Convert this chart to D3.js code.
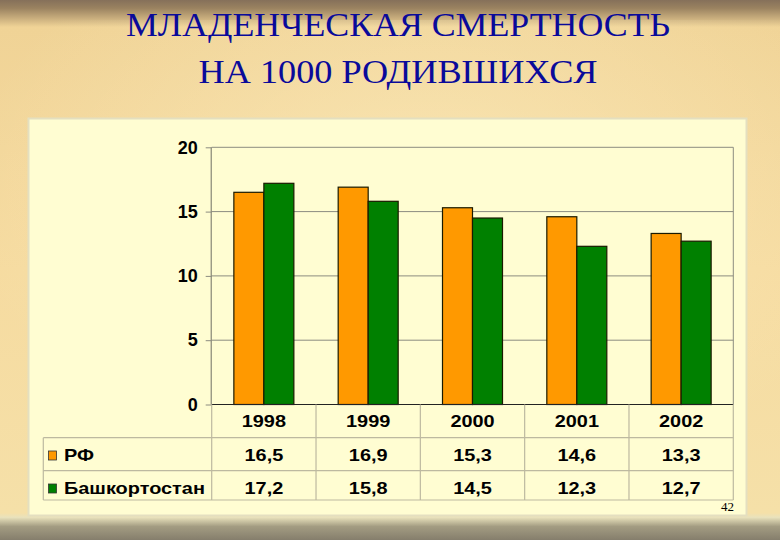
<!DOCTYPE html>
<html><head><meta charset="utf-8">
<script src="https://cdn.jsdelivr.net/npm/d3@7"></script>
<style>html,body{margin:0;padding:0;background:#F5D898;}svg{display:block;}</style>
</head><body>
<script>
const years = ["1998","1999","2000","2001","2002"];
const seriesNames = ["РФ","Башкортостан"];
const rfValues = [16.5,16.9,15.3,14.6,13.3];
const bashValues = [17.2,15.8,14.5,12.3,12.7];
const yTicks = [0,5,10,15,20];
const titleLines = ["МЛАДЕНЧЕСКАЯ СМЕРТНОСТЬ","НА 1000 РОДИВШИХСЯ"];
const pageNumber = "42";

(function(){
const W=780,H=540;
const colors=["#FF9900","#008000"];
const series=[rfValues,bashValues];
const fmt=v=>v.toFixed(1).replace(".",",");

const svg=d3.select("body").append("svg").attr("width",W).attr("height",H);
const defs=svg.append("defs");
const bg=defs.append("linearGradient").attr("id","bg").attr("x1",0).attr("y1",0).attr("x2",0).attr("y2",1);
[[0,"#85705A"],[0.015,"#9A8260"],[0.05,"#F0D396"],[0.5,"#F6DBA0"],[0.95,"#F5E0A8"],[0.958,"#E9E2BC"],[0.975,"#A39C82"],[1,"#857E6C"]]
 .forEach(s=>bg.append("stop").attr("offset",s[0]).attr("stop-color",s[1]));
svg.append("rect").attr("width",W).attr("height",H).attr("fill","url(#bg)");
const rg=defs.append("radialGradient").attr("id","glow").attr("cx",0.55).attr("cy",0.35).attr("r",0.6);
rg.append("stop").attr("offset",0).attr("stop-color","#FFF2C8").attr("stop-opacity",0.5);
rg.append("stop").attr("offset",1).attr("stop-color","#FFF2C8").attr("stop-opacity",0);
svg.append("rect").attr("y",20).attr("width",W).attr("height",495).attr("fill","url(#glow)");

titleLines.forEach((t,i)=>{
  svg.append("text").attr("x",398).attr("y",[36,83][i]).attr("text-anchor","middle")
    .attr("font-family","'Liberation Serif','Times New Roman',serif").attr("font-size",33)
    .attr("fill","#0A0A9A").attr("textLength",[544,399][i]).attr("lengthAdjust","spacingAndGlyphs").text(t);
});

svg.append("rect").attr("x",28.5).attr("y",118.5).attr("width",718).attr("height",397)
  .attr("fill","#FFFDD2").attr("stroke","#E4DFC0").attr("stroke-width",2);

const pLeft=211.7,pRight=733.3,pTop=147.3,pBottom=404.5;
const x=d3.scaleBand().domain(years).range([pLeft,pRight]).paddingInner(0).paddingOuter(0);
const y=d3.scaleLinear().domain([0,20]).range([pBottom,pTop]);
const xs=d3.scaleBand().domain([0,1]).range([0,60]);
const grpOff=(x.bandwidth()-60)/2;

const g=svg.append("g");
g.selectAll(".grid").data(yTicks.filter(d=>d>0)).join("line")
  .attr("x1",pLeft).attr("x2",pRight).attr("y1",d=>y(d)).attr("y2",d=>y(d))
  .attr("stroke","#8C8C80").attr("stroke-width",1);
g.append("line").attr("x1",pRight).attr("x2",pRight).attr("y1",pTop).attr("y2",pBottom).attr("stroke","#8C8C80");

years.forEach((yr,i)=>{
  series.forEach((s,k)=>{
    g.append("rect").attr("x",x(yr)+grpOff+xs(k)).attr("y",y(s[i]))
      .attr("width",xs.bandwidth()).attr("height",pBottom-y(s[i]))
      .attr("fill",colors[k]).attr("stroke","#1A1A00").attr("stroke-width",1.2);
  });
});

const font="'Liberation Sans',Arial,sans-serif";
const yAxis=g.append("g").attr("transform",`translate(${pLeft},0)`)
  .call(d3.axisLeft(y).tickValues(yTicks).tickSize(6).tickPadding(8));
yAxis.select(".domain").attr("stroke","#6E6E64").attr("d",`M-0.5,${pTop}V${pBottom}`);
yAxis.selectAll(".tick line").attr("stroke","#8C8C80");
yAxis.selectAll("text").attr("font-family",font).attr("font-weight","bold")
  .attr("font-size",18).attr("fill","#000").attr("x",-14);
g.append("line").attr("x1",pLeft).attr("x2",pRight).attr("y1",pBottom).attr("y2",pBottom).attr("stroke","#222").attr("stroke-width",1.2);

const tableLeft=43.3, row1=437.7, row2=470.7, row3=500;
const lineCol="#BDB9A0";
const tl=svg.append("g").attr("stroke",lineCol).attr("stroke-width",1.2);
years.concat(["end"]).forEach((yr,i)=>{
  const xx=i<years.length?x(yr):pRight;
  tl.append("line").attr("x1",xx).attr("x2",xx).attr("y1",pBottom).attr("y2",row3);
});
[row1,row2,row3].forEach(r=>tl.append("line").attr("x1",tableLeft).attr("x2",pRight).attr("y1",r).attr("y2",r));
tl.append("line").attr("x1",tableLeft).attr("x2",tableLeft).attr("y1",row1).attr("y2",row3);

function stretchedText(px,py,anchor,txt){
  svg.append("g").attr("transform",`translate(${px},${py}) scale(1.17,1)`)
    .append("text").attr("text-anchor",anchor)
    .attr("font-family",font).attr("font-weight","bold").attr("font-size",17).attr("fill","#000").text(txt);
}
years.forEach(yr=>stretchedText(x(yr)+x.bandwidth()/2,427,"middle",yr));
const rowY=[461,494];
series.forEach((s,k)=>{
  svg.append("rect").attr("x",48.5).attr("y",rowY[k]-10).attr("width",8).attr("height",9)
    .attr("fill",colors[k]).attr("stroke","#333").attr("stroke-width",0.8);
  stretchedText(64,rowY[k],"start",seriesNames[k]);
  years.forEach((yr,i)=>stretchedText(x(yr)+x.bandwidth()/2,rowY[k],"middle",fmt(s[i])));
});

svg.append("text").attr("x",734).attr("y",511).attr("text-anchor","end")
  .attr("font-family","'Liberation Serif',serif").attr("font-size",13).text(pageNumber);
})();
</script>
</body></html>
